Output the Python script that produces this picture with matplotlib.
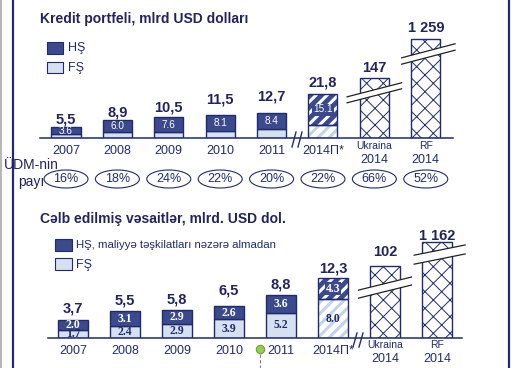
import matplotlib
matplotlib.use("Agg")
import matplotlib.pyplot as plt
from matplotlib.patches import Rectangle, Ellipse, Polygon

plt.rcParams["font.family"] = ["Liberation Sans", "DejaVu Sans"]

NAVY = "#1f2b6e"
DARK = "#3b4a8c"
LIGHT = "#d5e1ef"
STRIPE = "#c3d3ea"
TEXT = "#22235f"

# data
years = ["2007", "2008", "2009", "2010", "2011", "2014П*"]
peers = ["Ukraina", "RF"]
peer_year = "2014"

loan_hs = [3.6, 6.0, 7.6, 8.1, 8.4, 15.1]
loan_fs = [1.9, 2.9, 2.9, 3.4, 4.3, 6.7]
loan_total = [5.5, 8.9, 10.5, 11.5, 12.7, 21.8]
loan_peer = [147, 1259]
loan_peer_shown = [30.0, 49.5]      # broken bars, drawn height
gdp_share = [16, 18, 24, 22, 20, 22, 66, 52]

dep_hs = [2.0, 3.1, 2.9, 2.6, 3.6, 4.3]
dep_fs = [1.7, 2.4, 2.9, 3.9, 5.2, 8.0]
dep_total = [3.7, 5.5, 5.8, 6.5, 8.8, 12.3]
dep_peer = [102, 1162]
dep_peer_shown = [14.8, 19.8]

# label gaps above bars (px), as placed in the original slide
loan_gap = [3, 4, 5, 12, 12, 8, 6, 7]
dep_gap = [8, 7, 6, 12, 7, 6, 10, 2]

W, H = 532, 368
fig = plt.figure(figsize=(W / 100, H / 100), dpi=100)


def px_axes(x0, y0, x1, y1):
    return fig.add_axes([x0 / W, 1 - y1 / H, (x1 - x0) / W, (y1 - y0) / H])


def fmt_dec(v):
    return f"{v:.1f}".replace(".", ",")


def fmt_big(v):
    return f"{v:,}".replace(",", " ")


bg = fig.add_axes([0, 0, 1, 1])
bg.set_xlim(0, W)
bg.set_ylim(H, 0)
bg.axis("off")

# slide frame
bg.plot([1, 1], [0, H], color="#b8b8b8", lw=1.5)
bg.plot([12.5, 12.5], [0, H], color=NAVY, lw=1.6)
bg.plot([508.5, 508.5], [0, H], color=NAVY, lw=1.6)


def draw_break(ax, xc, yc, half_w, rise, gap):
    xs = [xc - half_w, xc + half_w]
    lo = [yc - gap / 2 - rise / 2, yc - gap / 2 + rise / 2]
    hi = [yc + gap / 2 - rise / 2, yc + gap / 2 + rise / 2]
    ax.add_patch(Polygon([(xs[0], lo[0]), (xs[1], lo[1]), (xs[1], hi[1]), (xs[0], hi[0])],
                         closed=True, facecolor="white", edgecolor="none",
                         zorder=5, clip_on=False))
    ax.plot(xs, lo, color="#222222", lw=0.9, zorder=6, clip_on=False)
    ax.plot(xs, hi, color="#222222", lw=0.9, zorder=6, clip_on=False)


def draw_panel(ax, hs, fs, totals, peer, peer_shown, gaps, width, inner_style, year_dy, peer_dy):
    n = len(years)
    x = list(range(n))
    xs = x[:n - 1]
    ax.bar(xs, fs[:n - 1], width, color=LIGHT, edgecolor=NAVY, lw=1.0, zorder=2)
    ax.bar(xs, hs[:n - 1], width, bottom=fs[:n - 1], color=DARK, edgecolor=NAVY, lw=1.0, zorder=2)

    # forecast bar, striped
    f = n - 1
    with plt.rc_context({"hatch.linewidth": 2.2}):
        ax.bar(f, fs[f], width, color="white", edgecolor=STRIPE, hatch="///", lw=0, zorder=2)
        ax.bar(f, hs[f], width, bottom=fs[f], color=DARK, edgecolor="white", hatch="///", lw=0, zorder=2)
    ax.bar(f, fs[f], width, fill=False, edgecolor=NAVY, lw=1.0, zorder=3)
    ax.bar(f, hs[f], width, bottom=fs[f], fill=False, edgecolor=NAVY, lw=1.0, zorder=3)

    # peers, cross-hatched
    px = [n, n + 1]
    with plt.rc_context({"hatch.linewidth": 0.7}):
        ax.bar(px, peer_shown, width, color="white", edgecolor=NAVY, hatch="xx", lw=1.0, zorder=2)

    tops = [fs[i] + hs[i] for i in range(n)] + list(peer_shown)
    labels = [fmt_dec(v) for v in totals] + [fmt_big(v) for v in peer]
    for i, (t, lab) in enumerate(zip(tops, labels)):
        ax.annotate(lab, (i, t), xytext=(0, gaps[i] * 0.72), textcoords="offset points",
                    ha="center", va="baseline", fontsize=10.5, fontweight="bold",
                    color=TEXT, annotation_clip=False)

    for i in x:
        inner_style(ax, i, fs[i], hs[i], i == f)

    for i, lab in enumerate(years):
        ax.annotate(lab, (i, 0), xytext=(0, -year_dy * 0.72), textcoords="offset points",
                    ha="center", va="center", fontsize=9, color=NAVY, annotation_clip=False)
    for j, lab in enumerate(peers):
        ax.annotate(lab, (n + j, 0), xytext=(0, -peer_dy[0] * 0.72), textcoords="offset points",
                    ha="center", va="center", fontsize=7.5, color=NAVY, annotation_clip=False)
        ax.annotate(peer_year, (n + j, 0), xytext=(0, -peer_dy[1] * 0.72), textcoords="offset points",
                    ha="center", va="center", fontsize=9, color=NAVY, annotation_clip=False)

    for s in ["top", "right", "left"]:
        ax.spines[s].set_visible(False)
    ax.spines["bottom"].set_color(NAVY)
    ax.spines["bottom"].set_linewidth(1.1)
    ax.set_xticks([])
    ax.set_yticks([])
    ax.patch.set_alpha(0)


def inner_top(ax, i, fs, hs, forecast):
    kw = dict(ha="center", va="center", fontsize=7.2, color="white", zorder=7)
    if forecast:
        kw["bbox"] = dict(boxstyle="square,pad=0.1", facecolor=DARK, edgecolor="none")
    ax.text(i, fs + hs / 2, f"{hs:.1f}", **kw)


def inner_bottom(ax, i, fs, hs, forecast):
    kw = dict(ha="center", va="center", fontsize=8.5, fontweight="bold",
              family="Liberation Serif", zorder=7)
    if forecast:
        ax.text(i, fs + hs / 2, f"{hs:.1f}", color="white",
                bbox=dict(boxstyle="square,pad=0.05", facecolor=DARK, edgecolor="none"), **kw)
    else:
        ax.text(i, fs + hs / 2, f"{hs:.1f}", color="white", **kw)
    ax.text(i, fs / 2, f"{fs:.1f}", color=NAVY, **kw)


# top panel: loans
ax1 = px_axes(40, 30, 453, 138)
ax1.set_xlim(-0.506, 7.53)
ax1.set_ylim(0, 54)
draw_panel(ax1, loan_hs, loan_fs, loan_total, loan_peer, loan_peer_shown, loan_gap,
           0.565, inner_top, 13, (8, 22))
draw_break(ax1, 6.0, 22.6, 0.53, 7.0, 3.0)
draw_break(ax1, 7.05, 42.0, 0.52, 7.0, 3.2)

for i, v in enumerate(gdp_share):
    ax1.add_patch(Ellipse((i, -20.5), 44 / 51.4, 9, facecolor="none", edgecolor=NAVY,
                          lw=0.8, clip_on=False))
    ax1.text(i, -20.5, f"{v}%", ha="center", va="center", fontsize=9, color=NAVY)

# bottom panel: deposits
ax2 = px_axes(48, 230, 462, 338)
ax2.set_xlim(-0.48, 7.48)
ax2.set_ylim(0, 108 / 4.85)
draw_panel(ax2, dep_hs, dep_fs, dep_total, dep_peer, dep_peer_shown, dep_gap,
           0.56, inner_bottom, 13, (7, 21))
draw_break(ax2, 6.0, 10.4, 0.51, 2.7, 1.65)
draw_break(ax2, 7.05, 17.2, 0.49, 2.1, 1.85)

# axis break marks on the baselines
for x0 in (292, 298):
    bg.plot([x0, x0 + 4], [147, 132], color=NAVY, lw=1.0)
for x0 in (353, 359):
    bg.plot([x0, x0 + 4], [347, 333], color=NAVY, lw=1.0)

# titles
bg.text(40, 19, "Kredit portfeli, mlrd USD dolları", fontsize=10, fontweight="bold",
        color=TEXT, va="center")
bg.text(40, 219, "Cəlb edilmiş vəsaitlər, mlrd. USD dol.", fontsize=10, fontweight="bold",
        color=TEXT, va="center")

# legends
bg.add_patch(Rectangle((47, 42), 16, 12, facecolor=DARK, edgecolor=NAVY, lw=0.8))
bg.add_patch(Rectangle((47, 62), 16, 11, facecolor=LIGHT, edgecolor=NAVY, lw=0.8))
bg.text(68, 48, "HŞ", fontsize=9, color=NAVY, va="center")
bg.text(68, 68, "FŞ", fontsize=9, color=NAVY, va="center")

bg.add_patch(Rectangle((55, 239), 17, 12, facecolor=DARK, edgecolor=NAVY, lw=0.8))
bg.add_patch(Rectangle((55, 258), 17, 12, facecolor=LIGHT, edgecolor=NAVY, lw=0.8))
bg.text(76, 245, "HŞ, maliyyə təşkilatları nəzərə almadan", fontsize=8.2, color=NAVY, va="center")
bg.text(76, 265, "FŞ", fontsize=9, color=NAVY, va="center")

# GDP share caption
bg.text(31, 165, "ÜDM-nin", fontsize=10, color=TEXT, ha="center", va="center")
bg.text(31, 182, "payı", fontsize=10, color=TEXT, ha="center", va="center")

# selection handle left in the slide
bg.plot([260, 260], [354, 368], color="#7f7f7f", lw=0.8, ls=(0, (3, 2)))
bg.plot([260], [349], marker="o", ms=6, color="#92d050", mec="#6f9e3c", mew=0.8)

fig.savefig("out.png", dpi=100)
